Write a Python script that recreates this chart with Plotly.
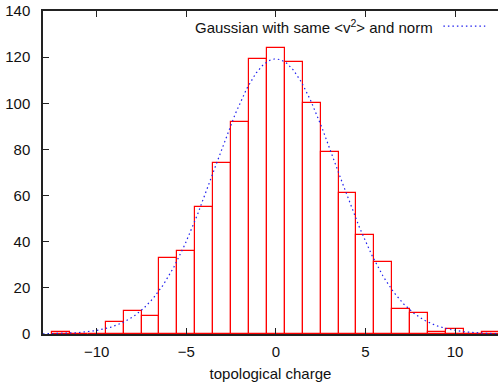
import numpy as np
import plotly.graph_objects as go

# Histogram of topological charge (bin centres and counts)
charge = [-12, -11, -10, -9, -8, -7, -6, -5, -4, -3, -2, -1, 0,
          1, 2, 3, 4, 5, 6, 7, 8, 9, 10, 11, 12]
counts = [1, 0, 0, 5, 10, 8, 33, 36, 55, 74, 92, 119, 124,
          118, 100, 79, 61, 43, 31, 11, 9, 1, 2, 0, 1]

x_ticks = [-10, -5, 0, 5, 10]
y_ticks = [0, 20, 40, 60, 80, 100, 120, 140]

# Gaussian with same <v^2> and norm as the histogram
c = np.array(charge, dtype=float)
n = np.array(counts, dtype=float)
norm = n.sum()
v2 = (n * c**2).sum() / norm
sigma = np.sqrt(v2)
xg = np.linspace(-13, 12.4, 400)
yg = norm / (sigma * np.sqrt(2 * np.pi)) * np.exp(-xg**2 / (2 * v2))

FONT = "Liberation Sans, Arial, sans-serif"
DOT = "1.5px,3px"

fig = go.Figure()
fig.add_trace(go.Bar(
    x=charge, y=counts, width=1.0,
    marker=dict(color="rgba(0,0,0,0)", line=dict(color="#ff0000", width=1.2)),
    showlegend=False,
))
fig.add_trace(go.Scatter(
    x=xg, y=yg, mode="lines",
    line=dict(color="#2020ee", width=1.2, dash=DOT),
    showlegend=False,
))

# legend (text then sample line, gnuplot style)
fig.add_annotation(
    xref="paper", yref="paper", x=0.862, y=0.953, xanchor="right", yanchor="middle",
    text="Gaussian with same &lt;v<sup>2</sup>&gt; and norm", showarrow=False,
    font=dict(family=FONT, size=15, color="#111111"),
)
fig.add_shape(type="line", xref="paper", yref="paper",
              x0=0.88, x1=0.972, y0=0.953, y1=0.953,
              line=dict(color="#2020ee", width=1.2, dash=DOT))

fig.update_layout(
    width=498, height=385,
    margin=dict(l=43, r=0, t=11, b=51),
    paper_bgcolor="white", plot_bgcolor="white",
    font=dict(family=FONT, size=15, color="#111111"),
    bargap=0,
)
fig.update_xaxes(
    range=[-13, 12.4], tickvals=x_ticks, ticks="inside", ticklen=6,
    tickcolor="#222222", showline=True, linecolor="#222222", linewidth=1.5,
    mirror="ticks", showgrid=False, zeroline=False, ticklabelstandoff=3,
    title=dict(text="topological charge", font=dict(size=15), standoff=10),
)
fig.update_yaxes(
    range=[0, 140], tickvals=y_ticks, ticks="inside", ticklen=6,
    tickcolor="#222222", showline=True, linecolor="#222222", linewidth=1.5,
    mirror=False, showgrid=False, zeroline=False, ticklabelstandoff=8,
)

fig.write_html("out.html")
